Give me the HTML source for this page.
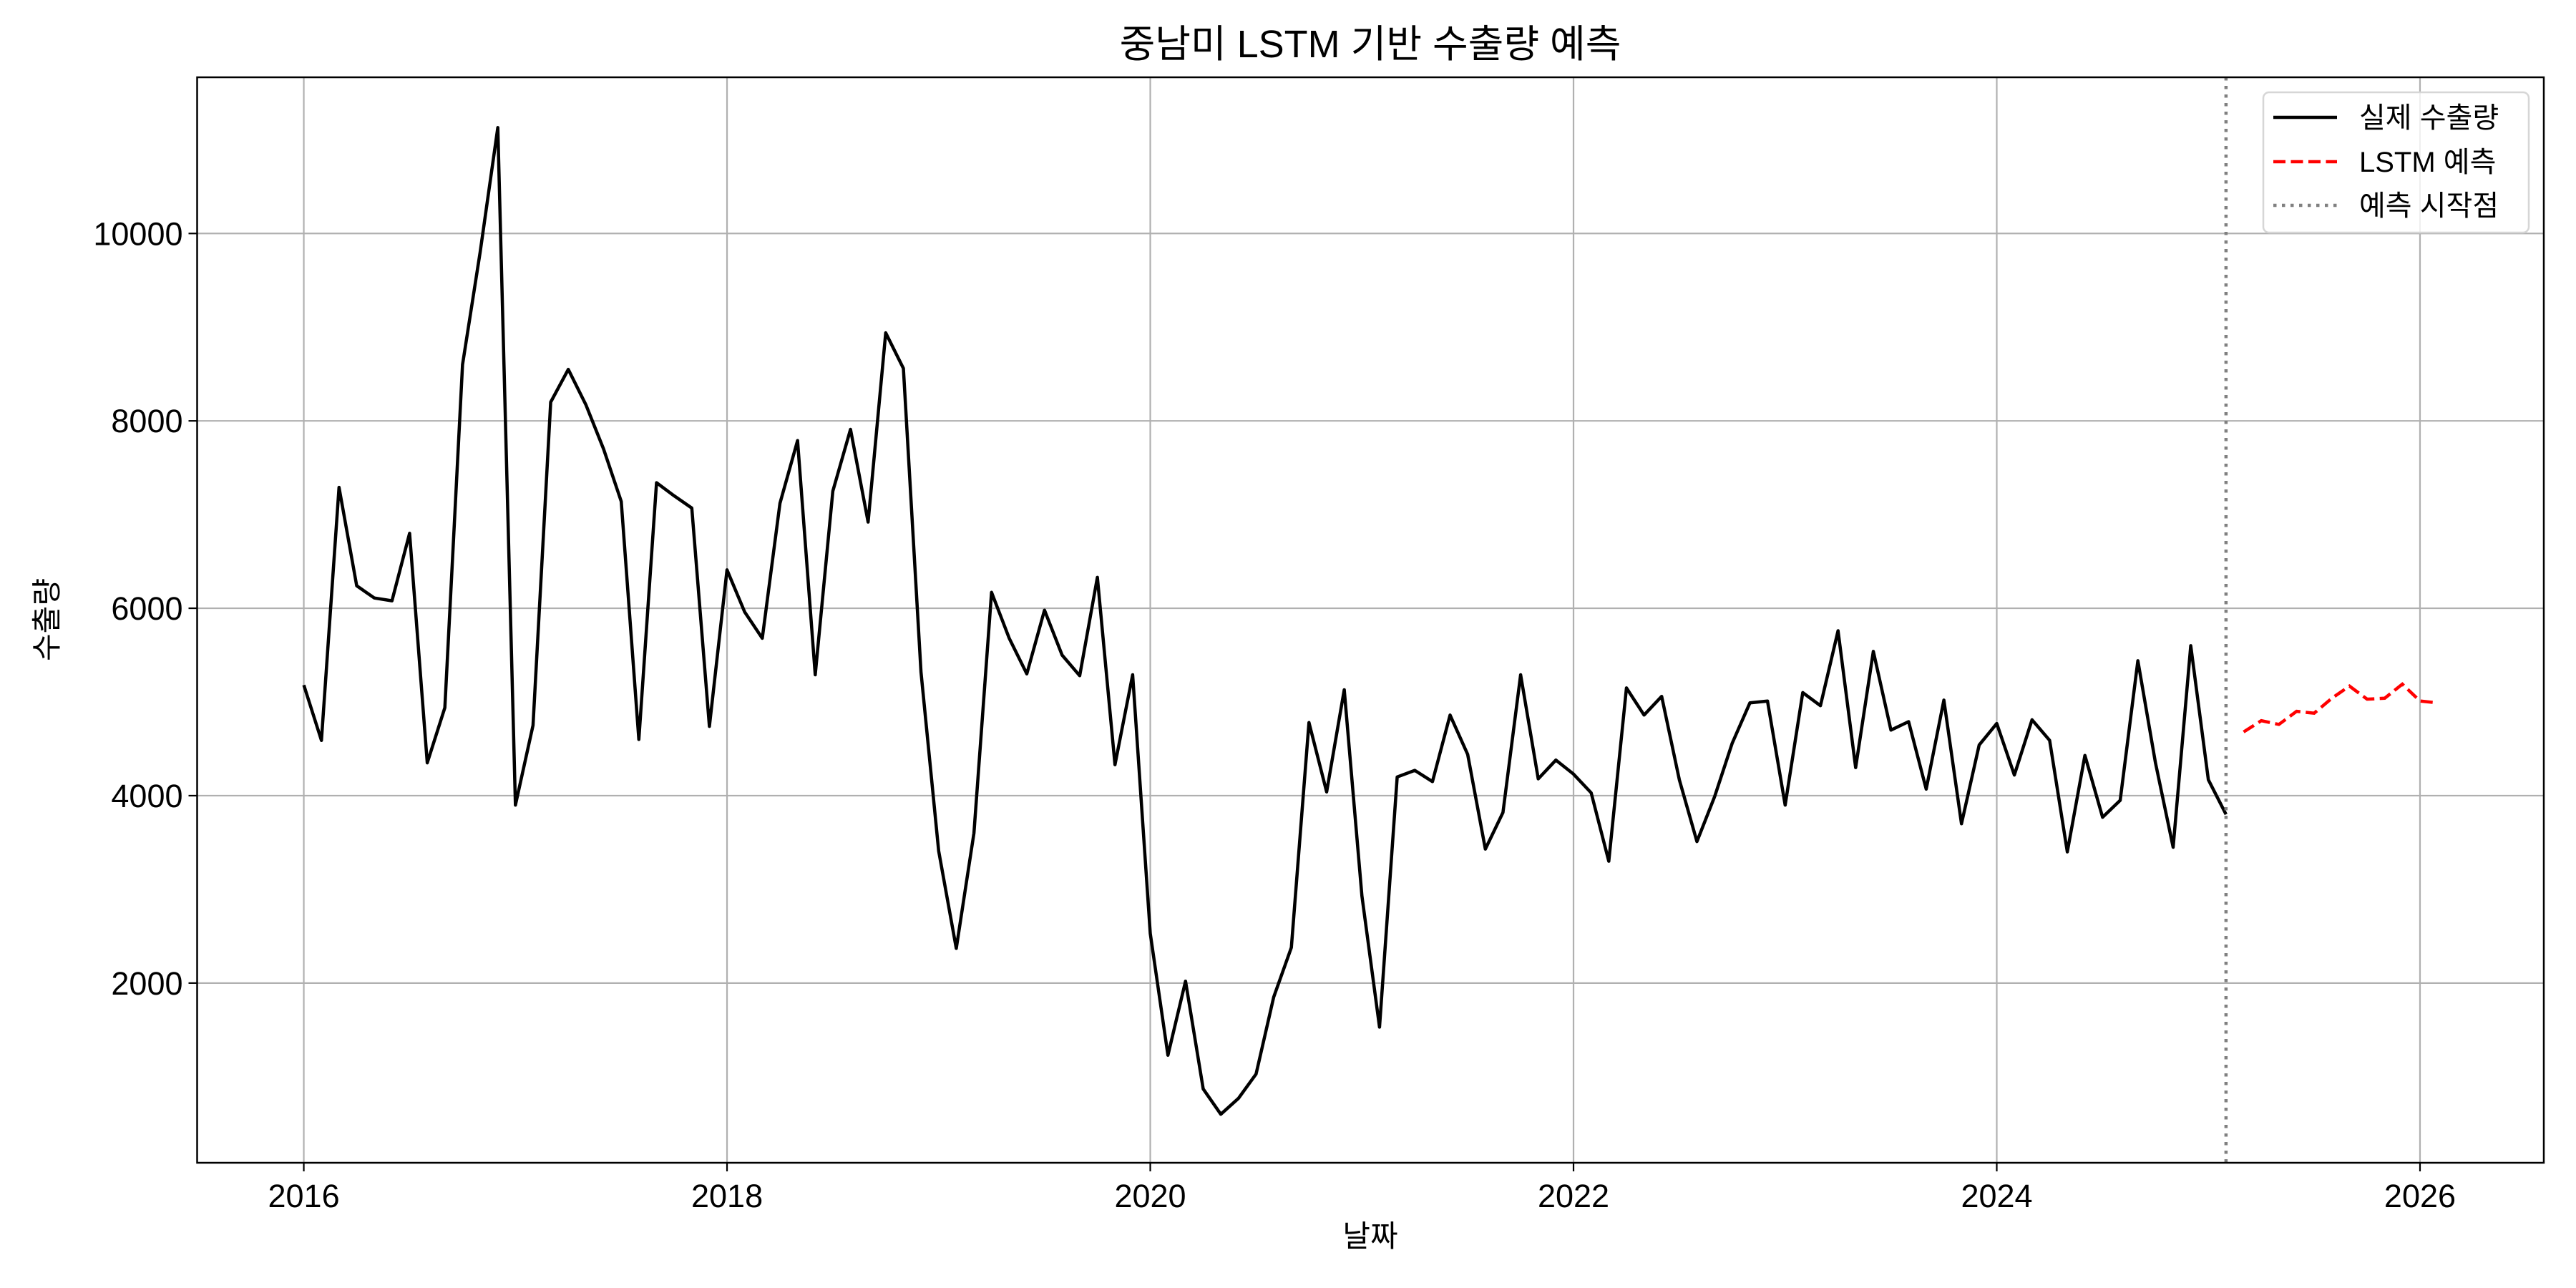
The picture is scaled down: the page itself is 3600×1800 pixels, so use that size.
<!DOCTYPE html>
<html><head><meta charset="utf-8">
<style>
html,body{margin:0;padding:0;background:#fff;}
svg{display:block;font-family:"Liberation Sans","Noto Sans CJK KR",sans-serif;}
</style></head>
<body>
<svg id="chart" width="3600" height="1800" viewBox="0 0 3600 1800" xmlns="http://www.w3.org/2000/svg">
<rect x="0" y="0" width="3600" height="1800" fill="#fff"/>
<text x="1915" y="80" font-size="54" text-anchor="middle">중남미 LSTM 기반 수출량 예측</text>
<g id="grid"></g>
<g id="series"></g>
<rect x="275.5" y="108" width="3279.5" height="1517" fill="none" stroke="#000" stroke-width="2.5"/>
<g id="ticks"></g>
<text x="1915" y="1742" font-size="42" text-anchor="middle">날짜</text>
<text x="0" y="0" font-size="42" text-anchor="middle" transform="translate(80,866) rotate(-90)">수출량</text>
<g>
<rect x="3163" y="129" width="371" height="196" rx="8" fill="#fff" fill-opacity="0.8" stroke="#d6d6d6" stroke-width="2.5"/>
<line x1="3177" y1="164" x2="3266" y2="164" stroke="#000" stroke-width="4.5"/>
<text x="3297" y="178" font-size="40">실제 수출량</text>
<line x1="3177" y1="226" x2="3266" y2="226" stroke="#f00" stroke-width="4.5" stroke-dasharray="17,7.5"/>
<text x="3297" y="240" font-size="40">LSTM 예측</text>
<line x1="3177" y1="287" x2="3266" y2="287" stroke="#808080" stroke-width="4.5" stroke-dasharray="4.5,7.5"/>
<text x="3297" y="301" font-size="40">예측 시작점</text>
</g>
</svg>
<script>
const actualValues = [5180,4590,7290,6240,6110,6080,6800,4350,4940,8600,9800,11130,
3900,4750,8200,8550,8170,7700,7140,4600,7340,7200,7070,4740,
6410,5960,5680,7120,7790,5290,7250,7910,6920,8940,8560,5320,
3410,2370,3600,6170,5680,5300,5980,5500,5280,6330,4330,5290,
2530,1230,2020,870,600,770,1030,1850,2380,4780,4040,5130,
2930,1530,4200,4270,4150,4860,4440,3430,3820,5290,4180,4380,
4230,4030,3300,5150,4860,5060,4170,3510,3990,4560,4990,5010,
3900,5100,4960,5760,4300,5540,4700,4790,4070,5020,3700,4540,
4770,4220,4810,4590,3400,4430,3770,3950,5440,4350,3450,5600,
4170,3800];
const actualStart = [2016, 1];
const forecastValues = [4680,4800,4760,4900,4880,5040,5170,5030,5040,5190,5010,4990];
const forecastStart = [2025, 3];
const forecastLine = [2025, 2];
const xTicks = [2016,2018,2020,2022,2024,2026];
const yTicks = [2000,4000,6000,8000,10000];

const NS = "http://www.w3.org/2000/svg";
const L = 275.5, R = 3555, T = 108, B = 1625;
const xMin = 2015.496, xMax = 2026.585, yMin = 82, yMax = 11667;
function xs(t){ return L + (t - xMin) / (xMax - xMin) * (R - L); }
function ys(v){ return B - (v - yMin) / (yMax - yMin) * (B - T); }
function monthT(start, i){ const m = start[1] - 1 + i; return start[0] + Math.floor(m/12) + (m%12)/12; }
function mk(tag, attrs, parent){ const e = document.createElementNS(NS, tag); for (const k in attrs) e.setAttribute(k, attrs[k]); parent.appendChild(e); return e; }

const grid = document.getElementById('grid'), ticks = document.getElementById('ticks'), series = document.getElementById('series');
xTicks.forEach(t => {
  const x = xs(t);
  const g = mk('line', {x1:x, x2:x, y1:T, y2:B, stroke:'#b0b0b0', 'stroke-width':2.2}, grid);
  
  
  const tk = mk('line', {x1:x, x2:x, y1:B, y2:B+12, stroke:'#000', 'stroke-width':2.2}, ticks);
  
  
  const lb = mk('text', {x:x, y:B+62, 'font-size':45, 'text-anchor':'middle'}, ticks);
  lb.textContent = t;
  
  
});
yTicks.forEach(v => {
  const y = ys(v);
  const g = mk('line', {x1:L, x2:R, y1:y, y2:y, stroke:'#b0b0b0', 'stroke-width':2.2}, grid);
  
  
  const tk = mk('line', {x1:L-12, x2:L, y1:y, y2:y, stroke:'#000', 'stroke-width':2.2}, ticks);
  
  
  const lb = mk('text', {x:L-20, y:y+16, 'font-size':45, 'text-anchor':'end'}, ticks);
  lb.textContent = v;
  
  
});
const ap = actualValues.map((v,i) => xs(monthT(actualStart,i)).toFixed(1)+','+ys(v).toFixed(1)).join(' ');
const a = mk('polyline', {points:ap, fill:'none', stroke:'#000', 'stroke-width':4.5, 'stroke-linejoin':'round'}, series);


const fp = forecastValues.map((v,i) => xs(monthT(forecastStart,i)).toFixed(1)+','+ys(v).toFixed(1)).join(' ');
const f = mk('polyline', {points:fp, fill:'none', stroke:'#f00', 'stroke-width':4.5, 'stroke-dasharray':'17,7.5'}, series);


const vx = xs(monthT(forecastLine,0));
const vl = mk('line', {x1:vx, x2:vx, y1:T, y2:B, stroke:'#808080', 'stroke-width':4.5, 'stroke-dasharray':'4.5,7.5'}, series);


</script>
</body></html>
